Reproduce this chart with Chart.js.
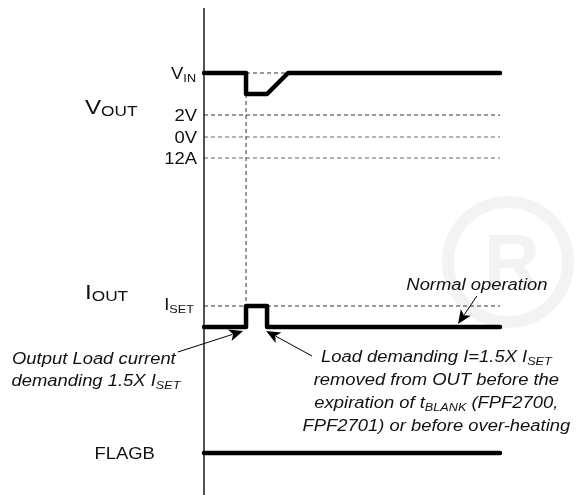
<!DOCTYPE html>
<html>
<head>
<meta charset="utf-8">
<script src="https://cdn.jsdelivr.net/npm/chart.js@4.4.1/dist/chart.umd.min.js"></script>
<style>
  html, body { margin:0; padding:0; background:#fff; }
  #wrap { width:578px; height:495px; }
</style>
</head>
<body>
<div id="wrap"><canvas id="timing" width="578" height="495"></canvas></div>
<script>
// time axis: 0..100 is the drawn span of every trace
const tStart = 0, tEnd = 100;
const tFault = 14.2;      // load step applied
const tRemove = 21.3;     // load removed
const tRecover = 28.4;    // VOUT back at VIN

// signal levels (arbitrary units, top of page is high)
const vinLevel = 42.2, voutDip = 40.1;
const refNames = ['2V', '0V', '12A'];
const refLevels = [38.0, 35.8, 33.7];
const isetLevel = 18.9, ioutLevel = 16.8;
const flagbLevel = 4.2;
const axisTop = 48.7, axisBottom = 0;

// traces
const voutT = [tStart, tFault, tFault, tRemove, tRecover, tEnd];
const voutV = [vinLevel, vinLevel, voutDip, voutDip, vinLevel, vinLevel];
const ioutT = [tStart, tFault, tFault, tRemove, tRemove, tEnd];
const ioutV = [ioutLevel, ioutLevel, isetLevel, isetLevel, ioutLevel, ioutLevel];
const flagbT = [tStart, tEnd];
const flagbV = [flagbLevel, flagbLevel];

const pts = (xs, ys) => xs.map((x, i) => ({ x: x, y: ys[i] }));

const solid = (data) => ({ data, showLine:true, borderColor:'#000', borderWidth:4.5,
  pointRadius:0, borderCapStyle:'round', borderJoinStyle:'round', order:0, tension:0 });
const dashed = (data, col) => ({ data, showLine:true, borderColor:col || '#333', borderWidth:1,
  borderDash:[4,3], pointRadius:0, order:2, tension:0 });

const datasets = [
  solid(pts(voutT, voutV)),
  solid(pts(ioutT, ioutV)),
  solid(pts(flagbT, flagbV)),
  { data: pts([0, 0], [axisTop, axisBottom]), showLine:true, borderColor:'#1a1a1a', borderWidth:1.5, pointRadius:0, order:1 },
  dashed(pts([tFault, tRecover], [vinLevel, vinLevel])),
  dashed(pts([tFault, tFault], [voutDip, isetLevel])),
  dashed(pts([tStart, tEnd], [isetLevel, isetLevel])),
];
refLevels.forEach((lv, i) => datasets.push(dashed(pts([tStart, tEnd], [lv, lv]), i === 0 ? '#333' : '#666')));

const SX = 1.15; // text is a little wide in the original
function richText(ctx, parts, x, y, align, italic) {
  const fam = '"Liberation Sans", Arial, sans-serif';
  let w = 0;
  parts.forEach(p => { ctx.font = (italic ? 'italic ' : '') + p[1] + 'px ' + fam; w += ctx.measureText(p[0]).width; });
  let x0 = align === 'right' ? -w : (align === 'center' ? -w / 2 : 0);
  ctx.save();
  ctx.translate(x, y);
  ctx.scale(SX, 1);
  ctx.fillStyle = '#111';
  ctx.textBaseline = 'alphabetic';
  ctx.textAlign = 'left';
  parts.forEach(p => {
    ctx.font = (italic ? 'italic ' : '') + p[1] + 'px ' + fam;
    ctx.fillText(p[0], x0, p[2] || 0);
    x0 += ctx.measureText(p[0]).width;
  });
  ctx.restore();
}

function arrow(ctx, x1, y1, x2, y2) {
  const a = Math.atan2(y2 - y1, x2 - x1), L = 14, W = 6;
  ctx.save();
  ctx.strokeStyle = '#000'; ctx.fillStyle = '#000'; ctx.lineWidth = 1;
  ctx.beginPath(); ctx.moveTo(x1, y1);
  ctx.lineTo(x2 - Math.cos(a) * L * 0.8, y2 - Math.sin(a) * L * 0.8); ctx.stroke();
  ctx.beginPath();
  ctx.moveTo(x2, y2);
  ctx.lineTo(x2 - Math.cos(a) * L - Math.sin(a) * W, y2 - Math.sin(a) * L + Math.cos(a) * W);
  ctx.lineTo(x2 - Math.cos(a) * L * 0.75, y2 - Math.sin(a) * L * 0.75);
  ctx.lineTo(x2 - Math.cos(a) * L + Math.sin(a) * W, y2 - Math.sin(a) * L - Math.cos(a) * W);
  ctx.closePath(); ctx.fill();
  ctx.restore();
}

// faint registered-mark watermark behind the diagram
const watermark = {
  id: 'watermark',
  beforeDraw(chart) {
    const ctx = chart.ctx;
    ctx.save();
    ctx.strokeStyle = '#f3f3f3'; ctx.lineWidth = 12;
    ctx.beginPath(); ctx.arc(508, 262, 60, 0, Math.PI * 2); ctx.stroke();
    ctx.fillStyle = '#f3f3f3';
    ctx.font = 'bold 78px "Liberation Sans", Arial, sans-serif';
    ctx.textAlign = 'center'; ctx.textBaseline = 'middle';
    ctx.fillText('R', 512, 266);
    ctx.restore();
  }
};

const labelPlugin = {
  id: 'labels',
  afterDatasetsDraw(chart) {
    const ctx = chart.ctx, xs = chart.scales.x, ys = chart.scales.y;
    const X = v => xs.getPixelForValue(v), Y = v => ys.getPixelForValue(v);
    // signal names
    richText(ctx, [['V', 21], ['OUT', 15, 2]], X(-40.2), Y(38.9) + 8, 'left');
    richText(ctx, [['I', 21], ['OUT', 15, 2]], X(-40.2), Y(20.4) + 8, 'left');
    richText(ctx, [['FLAGB', 16]], X(-16.6), Y(flagbLevel) + 6, 'right');
    // level names
    richText(ctx, [['V', 16], ['IN', 11, 3]], X(-2.7), Y(vinLevel) + 6, 'right');
    refNames.forEach((n, i) => richText(ctx, [[n, 16]], X(-2.4), Y(refLevels[i]) + 6, 'right'));
    richText(ctx, [['I', 16], ['SET', 11, 3]], X(-3.4), Y(isetLevel) + 4, 'right');
    // annotations
    richText(ctx, [['Normal operation', 16]], X(92.2), Y(21.1) + 6, 'center', true);
    arrow(ctx, X(92.2), Y(19.9), X(85.8), Y(17.1));
    richText(ctx, [['Output Load current', 16]], X(-37.2), Y(13.7) + 6, 'center', true);
    richText(ctx, [['demanding 1.5X I', 16], ['SET', 11, 3]], X(-36.5), Y(11.5) + 6, 'center', true);
    arrow(ctx, X(-8.8), Y(14.3), X(13.2), Y(16.4));
    const right = [
      [['Load demanding I=1.5X I', 16], ['SET', 11, 3]],
      [['removed from OUT before the', 16]],
      [['expiration of t', 16], ['BLANK', 11, 3], [' (FPF2700,', 16]],
      [['FPF2701) or before over-heating', 16]],
    ];
    const rowV = [13.9, 11.6, 9.3, 7.0];
    right.forEach((r, i) => richText(ctx, r, X(78.5), Y(rowV[i]) + 6, 'center', true));
    arrow(ctx, X(36.5), Y(13.9), X(21.0), Y(16.4));
  }
};

new Chart(document.getElementById('timing'), {
  type: 'scatter',
  data: { datasets },
  options: {
    responsive: false,
    animation: false,
    devicePixelRatio: 1,
    layout: { padding: 0 },
    clip: false,
    plugins: { legend: { display:false }, tooltip: { enabled:false } },
    scales: {
      x: { type:'linear', min:-68.92, max:126.35, display:false },
      y: { type:'linear', min:0, max:49.5, display:false }
    }
  },
  plugins: [watermark, labelPlugin]
});
</script>
</body>
</html>
